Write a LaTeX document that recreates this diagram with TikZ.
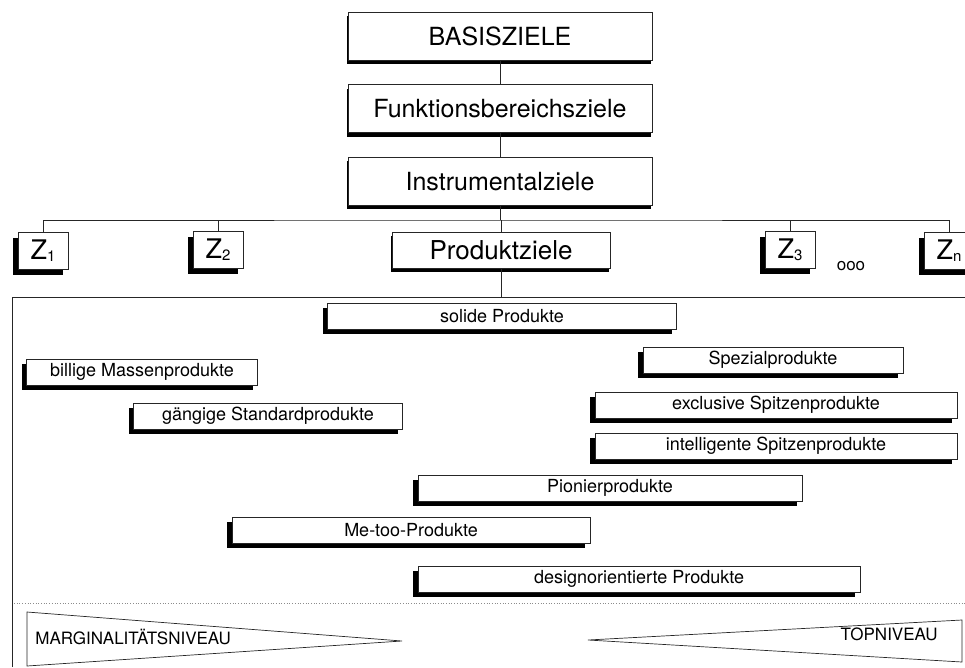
\documentclass[tikz,border=0pt]{standalone}
\usepackage{fontspec}
\setmainfont{TeX Gyre Heros}
\usetikzlibrary{positioning}
\usetikzlibrary{shadows}
\newcommand{\zsub}[1]{\raisebox{-2pt}{\fontsize{15}{15}\selectfont #1}}
\tikzset{
  box/.style      = { rectangle, inner sep=0pt, draw=black!85, fill=white },
  dark/.style     = { drop shadow={shadow xshift=-1pt, shadow yshift=-4pt, fill=black, opacity=1} },
  darkleft/.style = { drop shadow={shadow xshift=-5pt, shadow yshift=-5pt, fill=black, opacity=1} },
}
\tikzset{
  level/.style    = { box, dark, minimum width=304pt, minimum height=48pt, font=\fontsize{25}{30}\selectfont },
  goal/.style     = { box, darkleft, minimum width=50pt, minimum height=37pt, font=\fontsize{27}{30}\selectfont },
  product/.style  = { box, darkleft, minimum height=26pt, font=\fontsize{18}{20}\selectfont },
  niveau/.style   = { inner sep=0pt, font=\fontsize{17}{20}\selectfont }
}
\begin{document}
\begin{tikzpicture}[
  x=1pt,y=-1pt,
  node distance=24pt,
  black!85,text=black,line width=0.7pt
]
  \useasboundingbox (0,0) rectangle (965,667);
  \clip (0,0) rectangle (965,667);

  \node (basis) [level] at (500,36)    {BASISZIELE};
  \node (funk)  [level,below=of basis] {Funktionsbereichsziele};
  \node (instr) [level,below=of funk]  {Instrumentalziele};

  \node (z1)   [goal] at (43,251)  {Z\zsub{1}};
  \node (z2)   [goal] at (218,250) {Z\zsub{2}};
  \node (z3)   [goal] at (790,250) {Z\zsub{3}};
  \node (zn)   [goal] at (949,251) {Z\zsub{n}};
  \node (prod) [level,minimum width=218pt,minimum height=36pt,font=\fontsize{26}{30}\selectfont] at (501,250) {Produktziele};
  \node (dots) [niveau] at (851,266) {ooo};

  \coordinate (bus)    at (500,220);
  \coordinate (corner) at (12,297);

  \draw (basis) -- (funk);
  \draw (funk)  -- (instr);
  \draw (instr) -- (bus);
  \draw (z1.north) |- (bus) -| (zn.north);
  \draw (z2.north)   -- (z2.north |- bus);
  \draw (z3.north)   -- (z3.north |- bus);
  \draw (prod.north) -- (prod.north |- bus);

  \draw (12,667) -- (corner) -- (965,297);
  \draw (prod.south) -- (prod.south |- corner);

  \node (solide)  [product,minimum width=349pt] at (502,316) {solide Produkte};
  \node (billig)  [product,minimum width=231pt] at (142,372) {billige Massenprodukte};
  \node (gaengig) [product,minimum width=269pt] at (268,416) {gängige Standardprodukte};
  \node (spezial) [product,minimum width=260pt] at (773,360) {Spezialprodukte};
  \node (exklus)  [product,minimum width=362pt] at (776,405) {exclusive Spitzenprodukte};
  \node (intell)  [product,minimum width=362pt] at (776,446) {intelligente Spitzenprodukte};
  \node (pionier) [product,minimum width=384pt] at (610,488) {Pionierprodukte};
  \node (metoo)   [product,minimum width=358pt] at (411,530) {Me-too-Produkte};
  \node (design)  [product,minimum width=442pt] at (639,579) {designorientierte Produkte};

  \draw [dotted,black!45] (14,603) -- (965,603);

  \draw (27,612) -- (402,641) -- (27,666) -- cycle;
  \node (marg)   [niveau,anchor=west] at (35,637)  {MARGINALITÄTSNIVEAU};
  \draw (588,640) -- (962,620) -- (962,662) -- cycle;
  \node (topniv) [niveau,anchor=east] at (938,634) {TOPNIVEAU};
\end{tikzpicture}
\end{document}
